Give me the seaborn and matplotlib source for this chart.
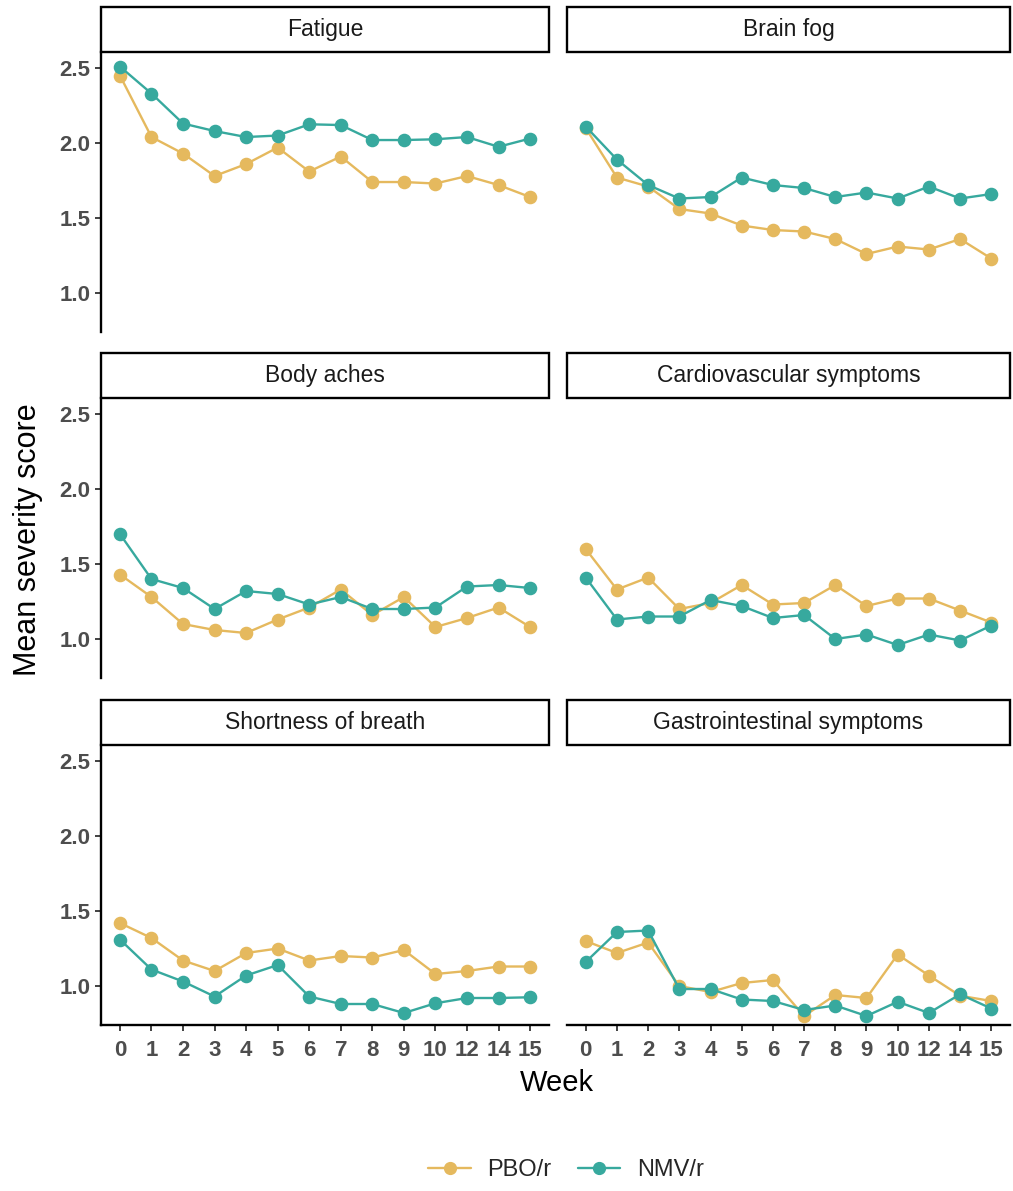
import numpy as np
import pandas as pd
import matplotlib
matplotlib.use("Agg")
import matplotlib.pyplot as plt
from matplotlib.patches import Rectangle
from matplotlib.lines import Line2D
import seaborn as sns

weeks = ["0", "1", "2", "3", "4", "5", "6", "7", "8", "9", "10", "12", "14", "15"]
symptoms = ["Fatigue", "Brain fog", "Body aches", "Cardiovascular symptoms",
            "Shortness of breath", "Gastrointestinal symptoms"]
arms = ["PBO/r", "NMV/r"]

fatigue_pbo = [2.45, 2.04, 1.93, 1.78, 1.86, 1.97, 1.81, 1.91, 1.74, 1.74, 1.73, 1.78, 1.72, 1.64]
fatigue_nmv = [2.51, 2.33, 2.13, 2.08, 2.04, 2.05, 2.125, 2.12, 2.02, 2.02, 2.025, 2.04, 1.975, 2.03]
brainfog_pbo = [2.10, 1.77, 1.71, 1.56, 1.53, 1.45, 1.42, 1.41, 1.36, 1.26, 1.31, 1.29, 1.36, 1.23]
brainfog_nmv = [2.11, 1.89, 1.72, 1.63, 1.64, 1.77, 1.72, 1.70, 1.64, 1.67, 1.63, 1.71, 1.63, 1.66]
bodyaches_pbo = [1.43, 1.28, 1.10, 1.06, 1.04, 1.13, 1.21, 1.33, 1.16, 1.28, 1.08, 1.14, 1.21, 1.08]
bodyaches_nmv = [1.70, 1.40, 1.34, 1.20, 1.32, 1.30, 1.23, 1.28, 1.20, 1.20, 1.21, 1.35, 1.36, 1.34]
cardio_pbo = [1.60, 1.33, 1.41, 1.20, 1.24, 1.36, 1.23, 1.24, 1.36, 1.22, 1.27, 1.27, 1.19, 1.11]
cardio_nmv = [1.41, 1.13, 1.15, 1.15, 1.26, 1.22, 1.14, 1.16, 1.00, 1.03, 0.96, 1.03, 0.99, 1.09]
sob_pbo = [1.42, 1.32, 1.17, 1.10, 1.22, 1.25, 1.17, 1.20, 1.19, 1.24, 1.08, 1.10, 1.13, 1.13]
sob_nmv = [1.31, 1.11, 1.03, 0.93, 1.07, 1.14, 0.93, 0.88, 0.88, 0.82, 0.885, 0.92, 0.92, 0.925]
gi_pbo = [1.30, 1.22, 1.29, 1.00, 0.96, 1.02, 1.04, 0.80, 0.94, 0.92, 1.21, 1.07, 0.935, 0.90]
gi_nmv = [1.16, 1.36, 1.37, 0.98, 0.98, 0.91, 0.90, 0.84, 0.87, 0.80, 0.895, 0.82, 0.945, 0.85]

series = {
    "Fatigue": (fatigue_pbo, fatigue_nmv),
    "Brain fog": (brainfog_pbo, brainfog_nmv),
    "Body aches": (bodyaches_pbo, bodyaches_nmv),
    "Cardiovascular symptoms": (cardio_pbo, cardio_nmv),
    "Shortness of breath": (sob_pbo, sob_nmv),
    "Gastrointestinal symptoms": (gi_pbo, gi_nmv),
}

rows = []
for s in symptoms:
    for arm, vals in zip(arms, series[s]):
        for w, v in zip(weeks, vals):
            rows.append({"symptom": s, "arm": arm, "week": w, "score": v})
df = pd.DataFrame(rows)

sns.set_theme(style="white")
plt.rcParams["font.family"] = ["Liberation Sans", "DejaVu Sans"]

palette = {"PBO/r": "#E5B95E", "NMV/r": "#37A99E"}
W, H = 1013, 1191
fig = plt.figure(figsize=(W / 100, H / 100), dpi=100)

col_x = [(101, 549), (567, 1010)]
row_y = [(52, 332), (398, 678), (745, 1025)]
strip_h = 45
tick_color = "#4D4D4D"
tick_fs = 16

for i, s in enumerate(symptoms):
    r, c = divmod(i, 2)
    x0, x1 = col_x[c]
    y0, y1 = row_y[r]
    ax = fig.add_axes([x0 / W, 1 - y1 / H, (x1 - x0) / W, (y1 - y0) / H])
    sub = df[df["symptom"] == s]
    sns.pointplot(data=sub, x="week", y="score", hue="arm", order=weeks,
                  hue_order=arms, palette=palette, errorbar=None,
                  markers="o", markersize=8.5, linewidth=1.7, ax=ax,
                  legend=False)
    ax.set_xlim(-0.6, len(weeks) - 0.4)
    ax.set_ylim(0.74, 2.607)
    ax.set_yticks([1.0, 1.5, 2.0, 2.5])
    ax.set_xlabel("")
    ax.set_ylabel("")
    for sp in ["top", "right"]:
        ax.spines[sp].set_visible(False)
    ax.spines["left"].set_visible(c == 0)
    ax.spines["bottom"].set_visible(r == 2)
    for sp in ["left", "bottom"]:
        ax.spines[sp].set_color("black")
        ax.spines[sp].set_linewidth(1.7)
    ax.tick_params(axis="y", left=(c == 0), labelleft=(c == 0), length=4.5,
                   width=1.3, color="#333333", labelsize=tick_fs, labelcolor=tick_color, pad=3)
    ax.tick_params(axis="x", bottom=(r == 2), labelbottom=(r == 2), length=4.5,
                   width=1.3, color="#333333", labelsize=tick_fs, labelcolor=tick_color, pad=6)
    ax.set_yticklabels(["1.0", "1.5", "2.0", "2.5"], fontweight="bold")
    for lab in ax.get_xticklabels():
        lab.set_fontweight("bold")
    # strip
    sh = strip_h / (y1 - y0)
    rect = Rectangle((0, 1), 1, sh, transform=ax.transAxes, clip_on=False,
                     facecolor="white", edgecolor="black", linewidth=1.7)
    ax.add_patch(rect)
    ax.text(0.5, 1 + sh / 2, s, transform=ax.transAxes, ha="center",
            va="center", fontsize=16.5, color="#1A1A1A")

fig.text(28 / W, 1 - 540 / H, "Mean severity score", rotation=90,
         ha="center", va="center", fontsize=22, color="black")
fig.text(557 / W, 1 - 1083 / H, "Week", ha="center", va="center",
         fontsize=21, color="black")

handles = [Line2D([0], [0], color=palette[a], marker="o", markersize=8.5,
                  linewidth=1.7) for a in arms]
fig.legend(handles, arms, loc="center", bbox_to_anchor=(566 / W, 1 - 1170 / H),
           ncol=2, frameon=False, fontsize=17, handlelength=1.8,
           columnspacing=1.1, handletextpad=0.7)

fig.savefig("out.png", dpi=100)
